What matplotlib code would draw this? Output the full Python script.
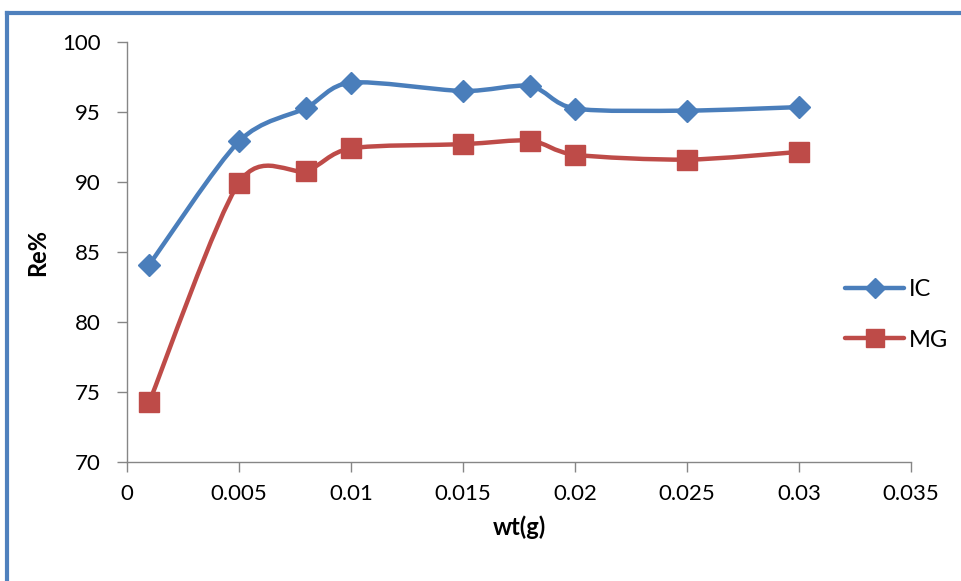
import numpy as np
import matplotlib
matplotlib.use("Agg")
import matplotlib.pyplot as plt
from matplotlib.path import Path
from matplotlib.patches import PathPatch
from matplotlib.lines import Line2D
from matplotlib.transforms import IdentityTransform

plt.rcParams['font.family'] = ['Lato', 'DejaVu Sans']

wt = [0.001, 0.005, 0.008, 0.01, 0.015, 0.018, 0.02, 0.025, 0.03]
ic = [84.1, 92.9, 95.3, 97.1, 96.5, 96.85, 95.25, 95.1, 95.35]
mg = [74.3, 89.95, 90.8, 92.4, 92.7, 92.95, 91.95, 91.6, 92.15]

x_ticks = [0, 0.005, 0.01, 0.015, 0.02, 0.025, 0.03, 0.035]
x_tick_labels = ["0", "0.005", "0.01", "0.015", "0.02", "0.025", "0.03", "0.035"]
y_ticks = [70, 75, 80, 85, 90, 95, 100]

BLUE = "#4A7EBB"
RED = "#BE4B48"
GRAY = "#868686"


def smooth_path(ax, xs, ys, k=1 / 7):
    """Cardinal-spline Bezier through the points, built in display space."""
    pts = ax.transData.transform(np.column_stack([xs, ys]))
    n = len(pts)
    verts = [pts[0]]
    codes = [Path.MOVETO]
    for i in range(n - 1):
        p0 = pts[i - 1] if i > 0 else pts[i]
        p1 = pts[i]
        p2 = pts[i + 1]
        p3 = pts[i + 2] if i + 2 < n else pts[i + 1]
        c1 = p1 + (p2 - p0) * k
        c2 = p2 - (p3 - p1) * k
        verts += [c1, c2, p2]
        codes += [Path.CURVE4] * 3
    return Path(np.array(verts), codes)


fig = plt.figure(figsize=(9.61, 5.81), dpi=100)
ax = fig.add_axes([127 / 961, 1 - 462 / 581, (911 - 127) / 961, (462 - 42) / 581])

ax.set_xlim(0, 0.035)
ax.set_ylim(70, 100)
ax.set_xticks(x_ticks)
ax.set_xticklabels(x_tick_labels)
ax.set_yticks(y_ticks)

for s in ("top", "right"):
    ax.spines[s].set_visible(False)
for s in ("left", "bottom"):
    ax.spines[s].set_color(GRAY)
    ax.spines[s].set_linewidth(1.0)
ax.tick_params(axis="both", direction="out", length=7, width=1.0, color=GRAY,
               labelsize=16, labelcolor="black")
ax.tick_params(axis="x", pad=9)
ax.tick_params(axis="y", pad=12)

fig.canvas.draw()

for ys, color, marker, ms in ((ic, BLUE, "D", 11), (mg, RED, "s", 14)):
    path = smooth_path(ax, wt, ys)
    patch = PathPatch(path, facecolor="none", edgecolor=color,
                      linewidth=3.2, capstyle="round", joinstyle="round", zorder=3)
    patch.set_transform(IdentityTransform())
    ax.add_artist(patch)
    ax.plot(wt, ys, linestyle="none", marker=marker, markersize=ms,
            color=color, markeredgecolor=color, zorder=4, clip_on=False)

ax.set_xlabel("wt(g)", fontsize=17, fontweight="bold", labelpad=8)
ax.set_ylabel("Re%", fontsize=17, fontweight="bold", labelpad=9)

handles = [
    Line2D([], [], color=BLUE, lw=3.2, marker="D", markersize=10, solid_capstyle="round"),
    Line2D([], [], color=RED, lw=3.2, marker="s", markersize=13, solid_capstyle="round"),
]
fig.legend(handles, ["IC", "MG"], loc="center left",
           bbox_to_anchor=(845 / 961, 1 - 315 / 581), frameon=False,
           fontsize=17, handlelength=2.5, handletextpad=0.2, labelspacing=1.25,
           borderaxespad=0, borderpad=0)

# outer chart frame
fig.add_artist(Line2D([7 / 961, 7 / 961], [0, 1 - 13 / 581], color="#4F81BD",
                      lw=3, transform=fig.transFigure, solid_capstyle="projecting"))
fig.add_artist(Line2D([7 / 961, 1], [1 - 13 / 581, 1 - 13 / 581], color="#4F81BD",
                      lw=3, transform=fig.transFigure, solid_capstyle="projecting"))

fig.savefig("out.png", dpi=100)
